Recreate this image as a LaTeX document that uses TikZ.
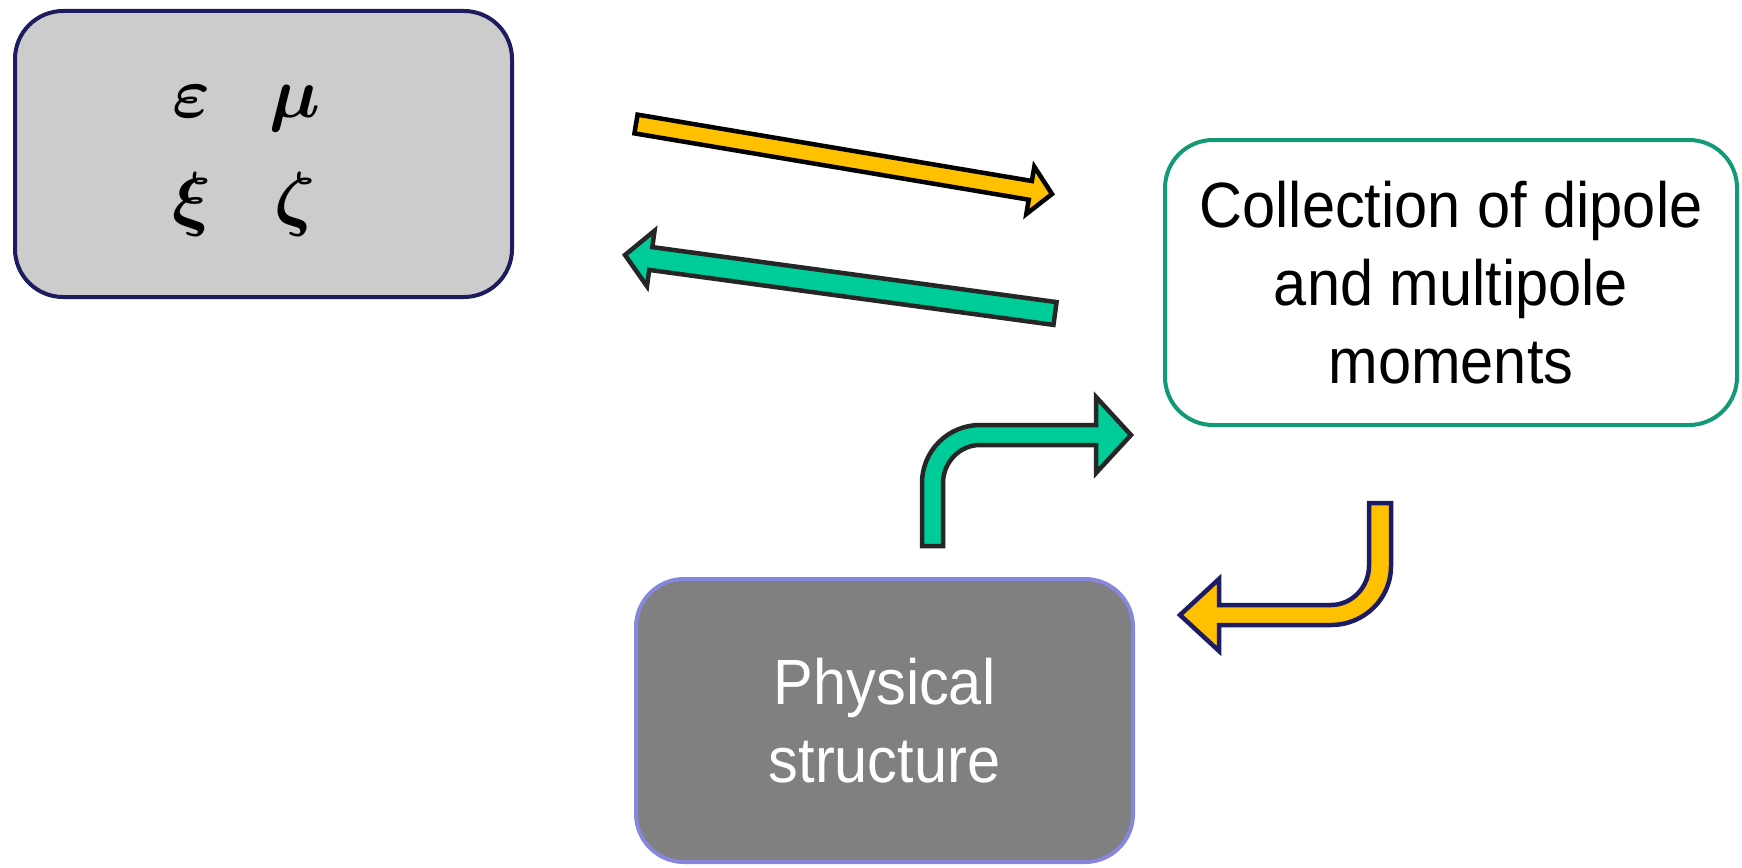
\documentclass[tikz,border=0pt]{standalone}
\usepackage{amsmath}
\usepackage{fontspec}
\setmainfont{Liberation Sans}[FakeStretch=0.93]
\usetikzlibrary{calc}
\definecolor{navyline}{HTML}{1C1C5E}
\definecolor{boxgray}{HTML}{CCCCCC}
\definecolor{tealline}{HTML}{129A76}
\definecolor{darkfill}{HTML}{808080}
\definecolor{lavline}{HTML}{8686DC}
\definecolor{orangefill}{HTML}{FFC000}
\definecolor{greenfill}{HTML}{00CC99}
\definecolor{darkline}{HTML}{262626}
\definecolor{arrnavy}{HTML}{1C1C66}
\newcommand\blockarr[6]{%
  \path ($(#2)!#4!(#1)$) coordinate (hb);
  \draw[#6] ($(#1)!#3!90:(#2)$) -- ($(hb)!#3!90:(#2)$) -- ($(hb)!#5!90:(#2)$)
    -- (#2) -- ($(hb)!#5!-90:(#2)$) -- ($(hb)!#3!-90:(#2)$)
    -- ($(#1)!#3!-90:(#2)$) -- cycle;}
\begin{document}
\begin{tikzpicture}[x=1pt,y=-1pt,
  roundbox/.style={rectangle, rounded corners=48pt, line width=4pt,
    inner sep=0pt, outer sep=0pt, align=center,
    font=\fontsize{64}{78}\selectfont},
  greek/.style={anchor=base, inner sep=0pt, scale=7.2, font=\fontsize{10}{12}\selectfont},
  arrowline/.style={line width=4.5pt, line join=miter}]
\useasboundingbox (0,0) rectangle (1742,867);

% boxes
\node[roundbox, draw=navyline, fill=boxgray, minimum width=497pt, minimum height=286pt]
  (params) at (263.5,154) {};
\node[roundbox, draw=tealline, fill=white, minimum width=572pt, minimum height=285pt]
  (moments) at (1451,282.5) {Collection of dipole\\and multipole\\moments};
\node[roundbox, draw=lavline, fill=darkfill, text=white, minimum width=497pt, minimum height=283pt]
  (phys) at (884.5,720.5) {Physical\\structure};

% greek letters
\node[greek] (eps) at (192,117) {$\boldsymbol{\varepsilon}$};
\node[greek] (mu) at (295,117) {$\boldsymbol{\mu}$};
\node[greek] (xi) at (192,222) {$\boldsymbol{\xi}$};
\node[greek] (zeta) at (295,222) {$\boldsymbol{\zeta}$};

% straight arrows
\coordinate (a1t) at (636,124);
\coordinate (a1h) at (1052,194);
\blockarr{a1t}{a1h}{9.5pt}{22pt}{24pt}{arrowline, draw=black, fill=orangefill}
\coordinate (a2t) at (1055,313.5);
\coordinate (a2h) at (625,255);
\blockarr{a2t}{a2h}{11.5pt}{26pt}{28pt}{arrowline, draw=darkline, fill=greenfill}

% bent arrow from physical structure to moments
\draw[arrowline, draw=darkline, fill=greenfill]
  (922,546) -- (922,483) .. controls (922,451) and (948,425) .. (980,425)
  -- (1096,425) -- (1096,397) -- (1131,435) -- (1096,473) -- (1096,445)
  -- (980,445) .. controls (959.6,445) and (943,462.4) .. (943,483)
  -- (943,546) -- cycle;

% bent arrow from moments to physical structure
\draw[arrowline, draw=arrnavy, fill=orangefill]
  (1369,503) -- (1391,503) -- (1391,566) .. controls (1391,599) and (1364,625) .. (1331,625)
  -- (1219,625) -- (1219,651) -- (1180,615) -- (1219,579) -- (1219,605)
  -- (1331,605) .. controls (1352,605) and (1369,587) .. (1369,566) -- cycle;
\end{tikzpicture}
\end{document}
